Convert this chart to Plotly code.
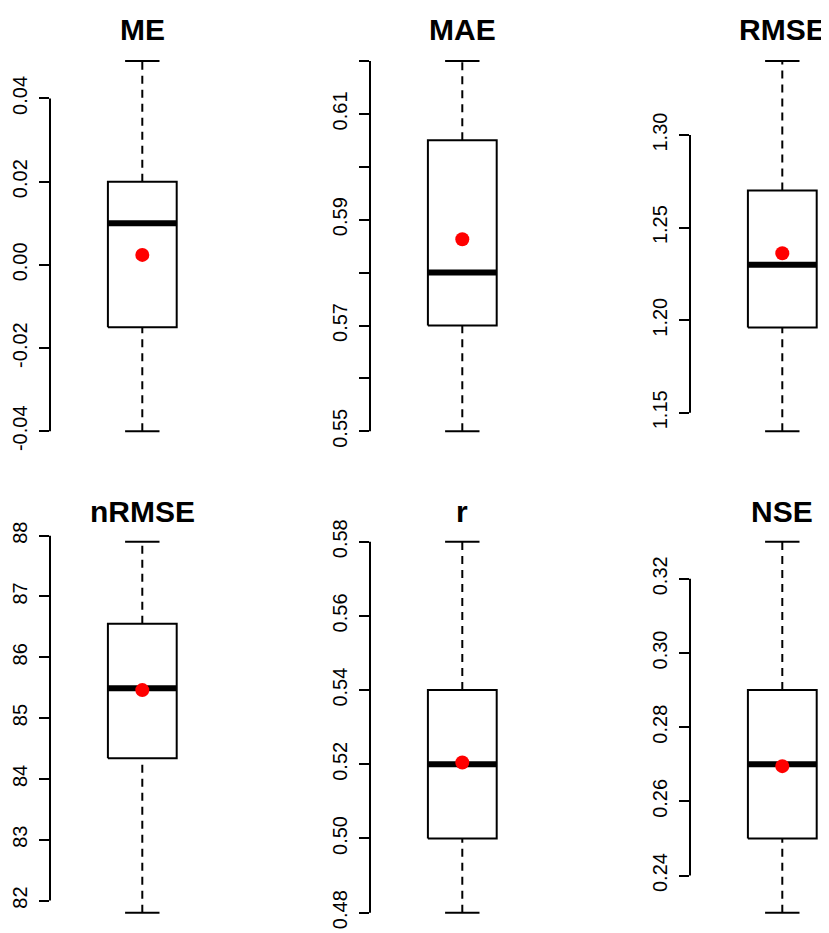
import plotly.graph_objects as go

# ---------------- data ----------------
metrics = ["ME", "MAE", "RMSE", "nRMSE", "r", "NSE"]
whisker_low = [-0.04, 0.55, 1.14, 81.8, 0.48, 0.23]
q1 = [-0.015, 0.57, 1.196, 84.34, 0.50, 0.25]
median = [0.010, 0.58, 1.23, 85.49, 0.52, 0.27]
q3 = [0.020, 0.605, 1.27, 86.55, 0.54, 0.29]
whisker_high = [0.049, 0.62, 1.34, 87.9, 0.58, 0.33]
means = [0.0024, 0.5863, 1.2362, 85.46, 0.5205, 0.2695]

tick_vals = [
    [-0.04, -0.02, 0.0, 0.02, 0.04],
    [0.55, 0.56, 0.57, 0.58, 0.59, 0.60, 0.61, 0.62],
    [1.15, 1.20, 1.25, 1.30],
    [82, 83, 84, 85, 86, 87, 88],
    [0.48, 0.50, 0.52, 0.54, 0.56, 0.58],
    [0.24, 0.26, 0.28, 0.30, 0.32],
]
tick_text = [
    ["-0.04", "-0.02", "0.00", "0.02", "0.04"],
    ["0.55", "", "0.57", "", "0.59", "", "0.61", ""],
    ["1.15", "1.20", "1.25", "1.30"],
    ["82", "83", "84", "85", "86", "87", "88"],
    ["0.48", "0.50", "0.52", "0.54", "0.56", "0.58"],
    ["0.24", "0.26", "0.28", "0.30", "0.32"],
]

# ---------------- geometry (pixels, page coordinates) ----------------
W, H = 829, 933
OFF = 8  # default body margin of the html page
col_left = [50, 370, 690]
center_off = 92.3
px_per_unit = 86.0
row_top = [46.2, 526.9]
row_bot = [446.1, 927.5]
title_y = [29.5, 511.0]
box_half = 0.4
cap_half = 0.2
FONT = "Liberation Sans, Arial, sans-serif"


def fx(px):
    return (px - OFF) / W


def fy(py):
    return 1 - (py - OFF) / H


fig = go.Figure()
layout = dict(
    width=W, height=H,
    margin=dict(l=0, r=0, t=0, b=0, autoexpand=False),
    paper_bgcolor="white", plot_bgcolor="white",
    showlegend=False,
    font=dict(family=FONT, color="black"),
)
annotations = []
shapes = []

for i, name in enumerate(metrics):
    r, c = divmod(i, 3)
    sfx = "" if i == 0 else str(i + 1)
    xa, ya = "x" + sfx, "y" + sfx
    left = col_left[c]
    center = left + center_off
    right = left + 2 * center_off
    x0 = 1 - center_off / px_per_unit
    lo, hi = whisker_low[i], whisker_high[i]
    pad = 0.04 * (hi - lo)
    yr = [lo - pad, hi + pad]

    layout["xaxis" + sfx] = dict(
        domain=[fx(left), min(fx(right), 1.0)],
        range=[x0, x0 + (min(right, W + OFF) - left) / px_per_unit],
        anchor=ya, visible=False, fixedrange=True, automargin=False,
    )
    layout["yaxis" + sfx] = dict(
        domain=[fy(row_bot[r]), fy(row_top[r])], range=yr, anchor=xa,
        showgrid=False, zeroline=False, showline=False, automargin=False,
        tickmode="array", tickvals=tick_vals[i], ticktext=tick_text[i],
        ticks="outside", ticklen=10, tickwidth=2, tickcolor="black",
        tickangle=-90, tickfont=dict(size=20, family=FONT, color="black"),
        ticklabelstandoff=4,
    )
    # axis line spanning first..last tick (R style)
    shapes.append(dict(type="line", xref=xa + " domain", yref=ya,
                       x0=0, x1=0, y0=tick_vals[i][0], y1=tick_vals[i][-1],
                       line=dict(color="black", width=2)))

    dash = "8px,6px"
    # whiskers
    fig.add_trace(go.Scatter(x=[1, 1], y=[q3[i], hi], mode="lines", xaxis=xa, yaxis=ya,
                             line=dict(color="black", width=2, dash=dash), hoverinfo="skip"))
    fig.add_trace(go.Scatter(x=[1, 1], y=[lo, q1[i]], mode="lines", xaxis=xa, yaxis=ya,
                             line=dict(color="black", width=2, dash=dash), hoverinfo="skip"))
    # caps
    for v in (lo, hi):
        fig.add_trace(go.Scatter(x=[1 - cap_half, 1 + cap_half], y=[v, v], mode="lines",
                                 xaxis=xa, yaxis=ya, line=dict(color="black", width=2),
                                 hoverinfo="skip"))
    # box
    fig.add_trace(go.Scatter(
        x=[1 - box_half, 1 + box_half, 1 + box_half, 1 - box_half, 1 - box_half],
        y=[q1[i], q1[i], q3[i], q3[i], q1[i]], mode="lines", xaxis=xa, yaxis=ya,
        fill="toself", fillcolor="white",
        line=dict(color="black", width=2), hoverinfo="skip"))
    # median
    fig.add_trace(go.Scatter(x=[1 - box_half, 1 + box_half], y=[median[i], median[i]],
                             mode="lines", xaxis=xa, yaxis=ya,
                             line=dict(color="black", width=6), hoverinfo="skip"))
    # mean
    fig.add_trace(go.Scatter(x=[1], y=[means[i]], mode="markers", xaxis=xa, yaxis=ya,
                             marker=dict(color="red", size=14, line=dict(width=0)),
                             cliponaxis=False))
    # title
    annotations.append(dict(
        text="<b>%s</b>" % name, xref="paper", yref="paper",
        x=fx(center), y=fy(title_y[r]),
        xanchor="center", yanchor="middle", showarrow=False,
        font=dict(size=30, family=FONT, color="black"),
    ))

layout["annotations"] = annotations
layout["shapes"] = shapes
fig.update_layout(**layout)
fig.write_html("out.html")
